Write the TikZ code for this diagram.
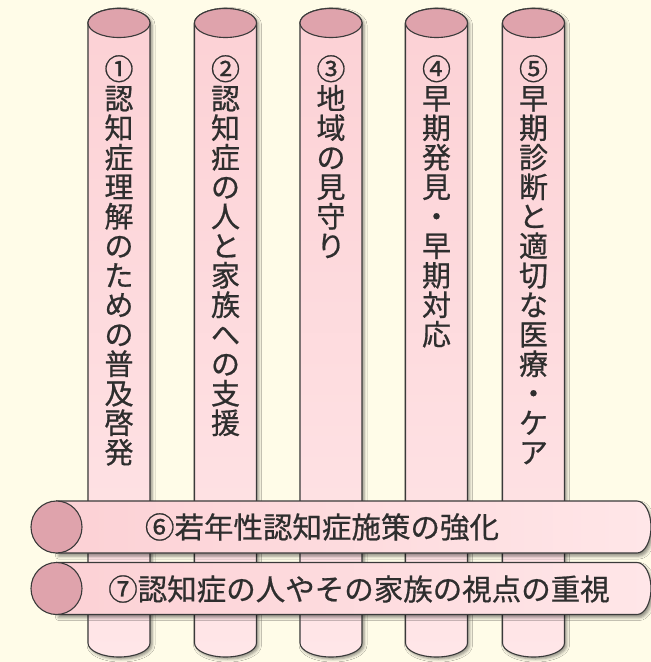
\documentclass[tikz,border=0pt]{standalone}
\usepackage{fontspec}
\setmainfont{Noto Sans CJK JP}[FakeBold=0.6]
\usetikzlibrary{shadows.blur}
\definecolor{bgcream}{HTML}{FFFCE8}
\definecolor{capcol}{HTML}{DFA3AC}
\definecolor{pinktop}{HTML}{FCD1D5}
\definecolor{pinklow}{HTML}{FFE6E8}
\definecolor{edgecol}{HTML}{3A3A3A}
\definecolor{inkcol}{HTML}{2E2E2E}
\tikzset{
  pillar/.style={draw=edgecol, line width=1.1pt, top color=pinktop, bottom color=pinklow,
    blur shadow={shadow xshift=2pt, shadow yshift=-2pt, shadow blur radius=3pt, shadow opacity=45}},
  bar/.style={draw=edgecol, line width=1.1pt, left color=pinktop, right color=pinklow,
    blur shadow={shadow xshift=2pt, shadow yshift=-3pt, shadow blur radius=3pt, shadow opacity=45}},
  capfill/.style={draw=edgecol, line width=1.1pt, fill=capcol},
  vtext/.style={font=\fontsize{29}{29.5}\selectfont, align=center, anchor=north, inner sep=0pt, text=inkcol},
  htext/.style={font=\fontsize{29.5}{30}\selectfont, inner sep=0pt, text=inkcol}
}
\begin{document}
\begin{tikzpicture}[x=1pt,y=1pt]
  \useasboundingbox (0,0) rectangle (651,-662);
  \fill [bgcream] (0,0) rectangle (651,-662);
  % pillars
  \draw [pillar] (88,-23) -- (88,-643) arc[start angle=180, end angle=360, x radius=31, y radius=14] -- (150,-23) arc[start angle=0, end angle=180, x radius=31, y radius=14.5] -- cycle;
  \draw [capfill] (119,-23) ellipse [x radius=31, y radius=14.5];
  \draw [pillar] (194.5,-23) -- (194.5,-643) arc[start angle=180, end angle=360, x radius=31, y radius=14] -- (256.5,-23) arc[start angle=0, end angle=180, x radius=31, y radius=14.5] -- cycle;
  \draw [capfill] (225.5,-23) ellipse [x radius=31, y radius=14.5];
  \draw [pillar] (300,-23) -- (300,-643) arc[start angle=180, end angle=360, x radius=31, y radius=14] -- (362,-23) arc[start angle=0, end angle=180, x radius=31, y radius=14.5] -- cycle;
  \draw [capfill] (331,-23) ellipse [x radius=31, y radius=14.5];
  \draw [pillar] (405.5,-23) -- (405.5,-643) arc[start angle=180, end angle=360, x radius=31, y radius=14] -- (467.5,-23) arc[start angle=0, end angle=180, x radius=31, y radius=14.5] -- cycle;
  \draw [capfill] (436.5,-23) ellipse [x radius=31, y radius=14.5];
  \draw [pillar] (502.5,-23) -- (502.5,-643) arc[start angle=180, end angle=360, x radius=31, y radius=14] -- (564.5,-23) arc[start angle=0, end angle=180, x radius=31, y radius=14.5] -- cycle;
  \draw [capfill] (533.5,-23) ellipse [x radius=31, y radius=14.5];
  \node [vtext] (t1) at (119,-55) {①\\認\\知\\症\\理\\解\\の\\た\\め\\の\\普\\及\\啓\\発};
  \node [vtext] (t2) at (225.5,-55) {②\\認\\知\\症\\の\\人\\と\\家\\族\\へ\\の\\支\\援};
  \node [vtext] (t3) at (331,-55) {③\\地\\域\\の\\見\\守\\り};
  \node [vtext] (t4) at (436.5,-55) {④\\早\\期\\発\\見\\・\\早\\期\\対\\応};
  \node [vtext] (t5) at (533.5,-55) {⑤\\早\\期\\診\\断\\と\\適\\切\\な\\医\\療\\・\\ケ\\ア};
  % bars
  \draw [bar] (56.5,-501) -- (637,-501) arc[start angle=90, end angle=-90, x radius=14, y radius=26] -- (56.5,-553) -- cycle;
  \draw [capfill] (56.5,-527) ellipse [x radius=25.5, y radius=26];
  \node [htext] (t6) at (322,-527) {⑥若年性認知症施策の強化};
  \draw [bar] (56.5,-562.5) -- (637,-562.5) arc[start angle=90, end angle=-90, x radius=14, y radius=26] -- (56.5,-614.5) -- cycle;
  \draw [capfill] (56.5,-588.5) ellipse [x radius=25.5, y radius=26];
  \node [htext] (t7) at (359,-589) {⑦認知症の人やその家族の視点の重視};
\end{tikzpicture}
\end{document}
